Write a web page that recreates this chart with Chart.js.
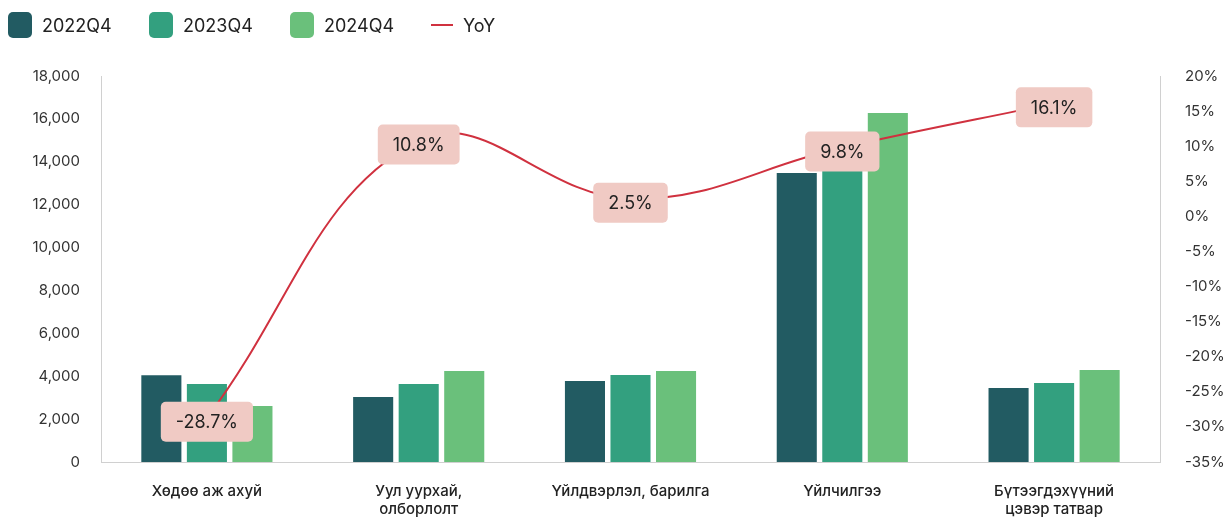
<!DOCTYPE html>
<html>
<head>
<meta charset="utf-8">
<script src="https://cdn.jsdelivr.net/npm/chart.js@4/dist/chart.umd.min.js"></script>
<style>
    html, body { margin: 0; padding: 0; background: #fff; }
    body { width: 1226px; height: 517px; position: relative; overflow: hidden; font-family: Inter, sans-serif; }
    #legend { position: absolute; left: 8px; top: 12px; display: flex; align-items: center; z-index: 2; }
    .item { display: flex; align-items: center; font-size: 18px; color: #222; }
    .box { width: 24px; height: 26px; border-radius: 5px; margin-right: 10px; }
    .dash { width: 22px; height: 2px; background: #d0313f; margin-right: 10px; }
    #wrap { position: absolute; left: 0; top: 0; width: 1226px; height: 517px; }
</style>
</head>
<body>
<div id="legend"></div>
<div id="wrap"><canvas id="chart"></canvas></div>
<script>
const categories = [['Хөдөө аж ахуй'], ['Уул уурхай,', 'олборлолт'], ['Үйлдвэрлэл, барилга'], ['Үйлчилгээ'], ['Бүтээгдэхүүний', 'цэвэр татвар']];
const values2022 = [4050, 3030, 3780, 13480, 3450];
const values2023 = [3640, 3640, 4060, 14830, 3680];
const values2024 = [2610, 4245, 4245, 16280, 4290];
const yoy = [-28.7, 10.8, 2.5, 9.8, 16.1];
const leftTicks = [0, 18000, 2000];
const rightTicks = [-35, 20, 5];

const colors = ['#225b62', '#33a07f', '#6ac07b'];
const lineColor = '#d0313f';

class Main {
    constructor() {
        this.canvas = document.getElementById('chart');
        this.initLegend();
        this.initChart();
    }

    initLegend() {
        const legend = document.getElementById('legend');
        const names = ['2022Q4', '2023Q4', '2024Q4'];
        names.forEach((name, i) => {
            const el = document.createElement('div');
            el.className = 'item';
            el.style.width = '141px';
            el.innerHTML = '<div class="box" style="background:' + colors[i] + '"></div>' + name;
            legend.appendChild(el);
        });
        const yoyItem = document.createElement('div');
        yoyItem.className = 'item';
        yoyItem.innerHTML = '<div class="dash"></div>YoY';
        legend.appendChild(yoyItem);
    }

    initChart() {
        const labelBoxes = {
            id: 'labelBoxes',
            afterDatasetsDraw(chart) {
                const ctx = chart.ctx;
                const meta = chart.getDatasetMeta(3);
                ctx.save();
                ctx.font = '18px Inter';
                ctx.textAlign = 'center';
                ctx.textBaseline = 'middle';
                meta.data.forEach((pt, i) => {
                    const text = yoy[i].toFixed(1) + '%';
                    const w = ctx.measureText(text).width + 30;
                    const h = 40;
                    ctx.fillStyle = '#f0cac4';
                    ctx.beginPath();
                    ctx.roundRect(pt.x - w / 2, pt.y - h / 2 + 4, w, h, 5);
                    ctx.fill();
                    ctx.fillStyle = '#222';
                    ctx.fillText(text, pt.x, pt.y + 5);
                });
                ctx.restore();
            }
        };

        const bar = (label, data, color) => ({
            type: 'bar',
            label: label,
            data: data,
            backgroundColor: color,
            yAxisID: 'y',
            order: 2,
            categoryPercentage: 0.645,
            barPercentage: 0.88
        });

        const config = {
            data: {
                labels: categories,
                datasets: [
                    bar('2022Q4', values2022, colors[0]),
                    bar('2023Q4', values2023, colors[1]),
                    bar('2024Q4', values2024, colors[2]),
                    {
                        type: 'line',
                        label: 'YoY',
                        data: yoy,
                        borderColor: lineColor,
                        borderWidth: 2,
                        pointRadius: 0,
                        tension: 0.4,
                        yAxisID: 'y1',
                        order: 1
                    }
                ]
            },
            options: {
                responsive: true,
                maintainAspectRatio: false,
                animation: false,
                layout: { padding: { top: 76, left: 0, right: 0, bottom: 0 } },
                plugins: {
                    legend: { display: false },
                    tooltip: { enabled: false }
                },
                scales: {
                    x: {
                        grid: { display: false },
                        border: { color: '#d0d0d0' },
                        ticks: { color: '#222', padding: 12, font: { family: 'Inter', size: 15, weight: 500 } },
                        afterFit: s => { s.height = 55; }
                    },
                    y: {
                        position: 'left',
                        min: leftTicks[0],
                        max: leftTicks[1],
                        grid: { display: false },
                        border: { color: '#d0d0d0' },
                        ticks: {
                            stepSize: leftTicks[2],
                            padding: 13,
                            color: '#333',
                            font: { family: 'Inter', size: 15 },
                            callback: v => v.toLocaleString('en-US')
                        },
                        afterFit: s => { s.width = 101; }
                    },
                    y1: {
                        position: 'right',
                        min: rightTicks[0],
                        max: rightTicks[1],
                        grid: { display: false },
                        border: { color: '#d0d0d0' },
                        ticks: {
                            stepSize: rightTicks[2],
                            padding: 17,
                            color: '#333',
                            font: { family: 'Inter', size: 15 },
                            callback: v => v + '%'
                        },
                        afterFit: s => { s.width = 66; }
                    }
                }
            },
            plugins: [labelBoxes]
        };
        new Chart(this.canvas, config);
    }
}

window.onload = () => {
    new Main();
}
</script>
</body>
</html>
